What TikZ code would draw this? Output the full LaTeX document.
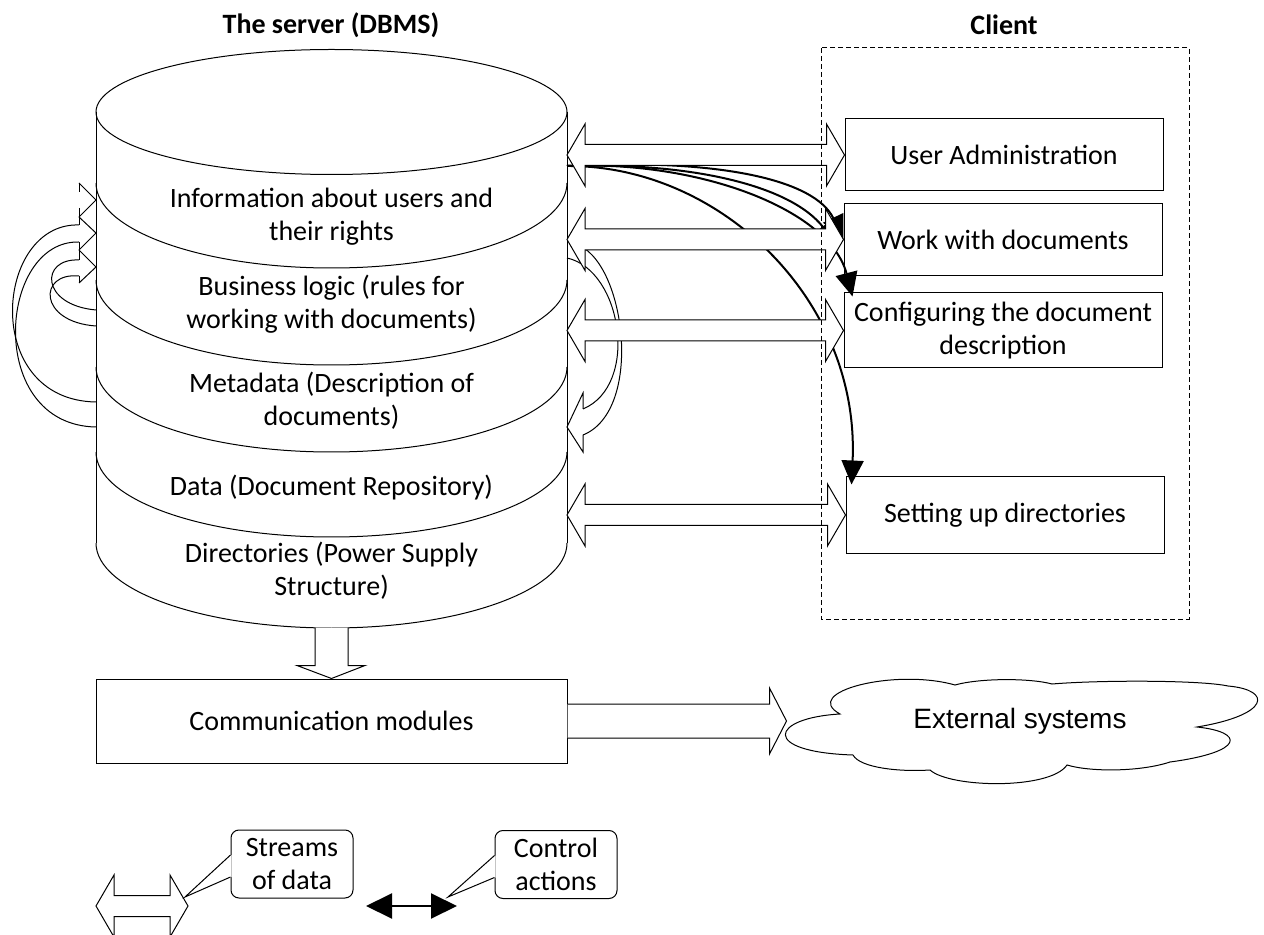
\documentclass[tikz,border=0pt]{standalone}
\usepackage{fontspec}
\setmainfont{Carlito}
\newfontfamily\arialfont{Liberation Sans}
\usetikzlibrary{arrows.meta,calc}

% hollow two-headed block arrow from #1 (left tip) to #2 (right tip)
\newcommand{\dataflow}[2]{%
  \draw[fill=white] let \p1=(#1), \p2=(#2) in
    (\p1) -- (\x1+9pt,\y1+15.5pt) -- (\x1+9pt,\y1+5.25pt) -- (\x2-9pt,\y1+5.25pt)
    -- (\x2-9pt,\y1+15.5pt) -- (\x2,\y1) -- (\x2-9pt,\y1-15.5pt) -- (\x2-9pt,\y1-5.25pt)
    -- (\x1+9pt,\y1-5.25pt) -- (\x1+9pt,\y1-15.5pt) -- cycle;}

\begin{document}
\begin{tikzpicture}[x=0.5pt,y=-0.5pt,line width=0.5pt,
  every node/.style={font=\fontsize{14}{16.5}\selectfont},
  clientbox/.style={draw,minimum width=159pt,minimum height=36pt,align=center,inner sep=1pt},
  layer/.style={align=center,inner sep=0pt},
  ctrl/.style={line width=1pt,-{Triangle[length=12pt,width=11pt]}},
  callout/.style={draw,rounded corners=4pt,align=center,minimum width=61pt,minimum height=34pt,inner sep=1pt}]
\useasboundingbox (0,0) rectangle (1264,935);

% titles
\node[font=\fontsize{14}{16.5}\selectfont\bfseries] (srvtitle) at (331,25) {The server (DBMS)};
\node[font=\fontsize{14}{16.5}\selectfont\bfseries] (clititle) at (1004,25) {Client};

% the server cylinder
\coordinate (srvW) at (96,112);
\coordinate (srvE) at (567,112);
\draw (331.5,112) ellipse [x radius=117.75pt, y radius=31.25pt];
\draw (srvW) -- (96,543) (srvE) -- (567,543);
\foreach \y in {183,280,367,452,543}
  \draw (96,\y) arc [start angle=180, end angle=360, x radius=117.75pt, y radius=42.5pt];

\node[layer] (users) at (331.5,217) {Information about users and\\their rights};
\node[layer] (logic) at (331.5,304) {Business logic (rules for\\working with documents)};
\node[layer] (meta) at (331.5,401) {Metadata (Description of\\documents)};
\node[layer] (data) at (331.5,488) {Data (Document Repository)};
\node[layer] (dirs) at (331.5,571) {Directories (Power Supply\\Structure)};

% loops on the left side
\draw (79,225) .. controls (-5,222) and (-20,400) .. (96,402);
\draw (79,242) .. controls (-2,240) and (-15,425) .. (96,427);
\draw (79,260) .. controls (40,258) and (40,305) .. (96,310);
\draw (79,276) .. controls (38,272) and (38,322) .. (96,326);
\draw (79,183) -- (96,200) -- (79,217) -- (96,233) -- (79,250) -- (96,267) -- (79,283);
\draw (79,183) -- (79,192) (79,208) -- (79,225) (79,242) -- (79,260) (79,276) -- (79,283);

% loop on the right side
\draw (567,258) .. controls (622,270) and (640,385) .. (583,409);
\draw (575,244) .. controls (625,258) and (645,410) .. (583,435);
\draw (583,409) -- (583,393) -- (567,427) -- (583,452) -- (583,435);

% client
\node[clientbox] (ua) at (1004,155) {User Administration};
\node[clientbox] (wd) at (1003,239.5) {Work with documents};
\node[clientbox,minimum height=37.5pt] (cfg) at (1003,330.5) {Configuring the document\\description};
\node[clientbox,minimum height=38pt] (sud) at (1005,515) {Setting up directories};

% control actions
\coordinate (ctl) at (567,166);
\draw[ctrl] (ctl) .. controls (720,158) and (815,180) .. (wd.west);
\draw[ctrl] (ctl) .. controls (690,162) and (790,185) .. ($(wd.west)+(-6,6)$);
\draw[ctrl] (ctl) .. controls (700,160) and (830,210) .. ($(cfg.north west)+(9,4)$);
\draw[ctrl] (ctl) .. controls (720,165) and (860,300) .. ($(sud.north west)+(6,8)$);

% streams of data
\dataflow{srvE|-ua.west}{ua.west}
\dataflow{srvE|-wd.west}{wd.west}
\dataflow{srvE|-cfg.west}{cfg.west}
\dataflow{srvE|-sud.west}{sud.west}

\draw[dash pattern=on 2.5pt off 1.5pt] (821,48) rectangle (1189,619);

% communication
\node[draw,minimum width=235.5pt,minimum height=42pt] (comm) at (331.5,721) {Communication modules};
\draw[fill=white] ($(comm.north)+(-16.5,-51)$) -- ++(0,38) -- ++(-18,0) -- (comm.north)
  -- ++(33.5,-13) -- ++(-17,0) -- ++(0,-38);

% external systems cloud
\draw (840,714) .. controls (800,692) and (895,668) .. (955,685)
  .. controls (980,678) and (1030,678) .. (1052,684)
  .. controls (1100,680) and (1200,680) .. (1228,686)
  .. controls (1273,690) and (1270,715) .. (1197,727)
  .. controls (1245,732) and (1245,752) .. (1170,762)
  .. controls (1140,772) and (1090,772) .. (1067,765)
  .. controls (1050,790) and (950,788) .. (930,770)
  .. controls (900,772) and (860,768) .. (853,755)
  .. controls (760,752) and (770,718) .. cycle;
\node[font=\fontsize{14}{16.5}\selectfont\arialfont] (ext) at (1020,721) {External systems};
\draw[fill=white] ($(comm.east)+(0,-17)$) -- ++(202,0) -- ++(0,-16) -- ++(17,33)
  -- ++(-17,33) -- ++(0,-16) -- ($(comm.east)+(0,17)$);

% legend
\coordinate (lgL) at (96,906);
\coordinate (lgR) at (188,906);
\dataflow{lgL}{lgR}
\node[callout] (streams) at (292,864) {Streams\\of data};
\coordinate (stTip) at (185,897);
\fill[white] ($(streams.west)+(1,-9)$) -- (stTip) -- ($(streams.west)+(1,13)$) -- cycle;
\draw ($(streams.west)+(0,-9)$) -- (stTip) -- ($(streams.west)+(0,13)$);

\coordinate (caL) at (366,906);
\coordinate (caR) at (457,906);
\draw[line width=1pt,{Triangle[length=13pt,width=12.5pt]}-{Triangle[length=13pt,width=12.5pt]}] (caL) -- (caR);
\node[callout] (control) at (556,864.5) {Control\\actions};
\coordinate (caTip) at (448,897);
\fill[white] ($(control.west)+(1,-9)$) -- (caTip) -- ($(control.west)+(1,13)$) -- cycle;
\draw ($(control.west)+(0,-9)$) -- (caTip) -- ($(control.west)+(0,13)$);
\end{tikzpicture}
\end{document}
